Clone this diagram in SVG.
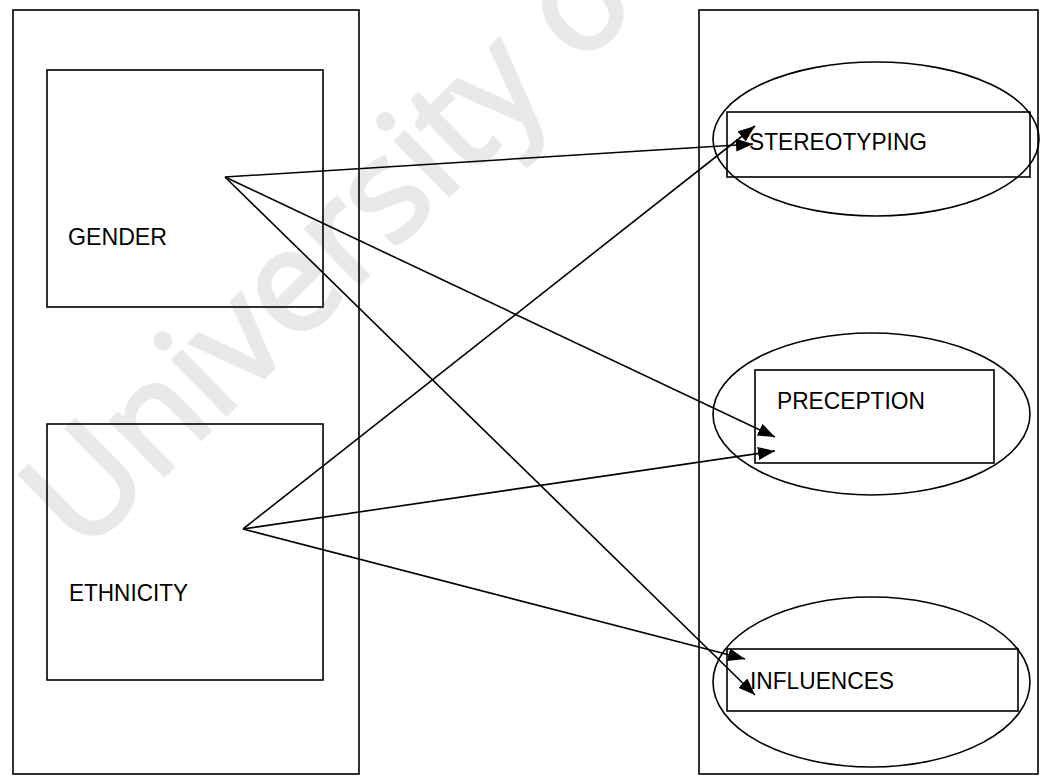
<svg xmlns="http://www.w3.org/2000/svg" width="1045" height="783" viewBox="0 0 1045 783">
  <style>
    .frame { fill: none; stroke: #000; stroke-width: 1.6; }
    .box { fill: none; stroke: #000; stroke-width: 1.6; }
    .oval { fill: none; stroke: #000; stroke-width: 1.6; }
    .label { font-family: "Liberation Sans", Arial, sans-serif; font-size: 24px; fill: #000; }
    .link { stroke: #000; stroke-width: 1.6; fill: none; marker-end: url(#head); }
    .mark { font-family: "Open Sans", "Liberation Sans", sans-serif; font-size: 142px; fill: #e9e9e9; stroke: #e9e9e9; stroke-width: 4; }
  </style>
  <defs>
    <marker id="head" markerUnits="userSpaceOnUse" markerWidth="18" markerHeight="14" refX="17" refY="6.5" orient="auto">
      <path d="M0,0 L17,6.5 L0,13 z" fill="#000"/>
    </marker>
  </defs>

  <rect width="1045" height="783" fill="#fff"/>

  <!-- background watermark -->
  <g id="watermark">
    <text class="mark" transform="translate(82,556) rotate(-44.5)">University of</text>
  </g>

  <!-- two column frames -->
  <g id="factors">
    <rect class="frame" x="13" y="10" width="346" height="764"/>
  </g>
  <g id="outcomes">
    <rect class="frame" x="699" y="10" width="339" height="764"/>
  </g>

  <!-- left column nodes -->
  <g id="gender">
    <rect class="box" x="47" y="70" width="276" height="237"/>
    <text class="label" x="68" y="245" textLength="99" lengthAdjust="spacingAndGlyphs">GENDER</text>
  </g>
  <g id="ethnicity">
    <rect class="box" x="47" y="424" width="276" height="256"/>
    <text class="label" x="69" y="601" textLength="119" lengthAdjust="spacingAndGlyphs">ETHNICITY</text>
  </g>

  <!-- right column nodes -->
  <g id="stereotyping">
    <ellipse class="oval" cx="876" cy="139" rx="163" ry="77"/>
    <rect class="box" x="727" y="112" width="303" height="65"/>
    <text class="label" x="749" y="150" textLength="178" lengthAdjust="spacingAndGlyphs">STEREOTYPING</text>
  </g>
  <g id="preception">
    <ellipse class="oval" cx="871.5" cy="414" rx="158.5" ry="81"/>
    <rect class="box" x="755" y="370" width="239" height="93"/>
    <text class="label" x="777" y="409" textLength="148" lengthAdjust="spacingAndGlyphs">PRECEPTION</text>
  </g>
  <g id="influences">
    <ellipse class="oval" cx="871.5" cy="682" rx="158.5" ry="85"/>
    <rect class="box" x="727" y="649" width="291" height="62"/>
    <text class="label" x="750" y="689" textLength="144" lengthAdjust="spacingAndGlyphs">INFLUENCES</text>
  </g>

  <!-- connectors -->
  <g id="connectors">
    <line class="link" x1="225" y1="177" x2="753" y2="144"/>
    <line class="link" x1="225" y1="177" x2="775" y2="437"/>
    <line class="link" x1="225" y1="177" x2="755" y2="695"/>
    <line class="link" x1="243" y1="529" x2="755" y2="126"/>
    <line class="link" x1="243" y1="529" x2="775" y2="451"/>
    <line class="link" x1="243" y1="529" x2="745" y2="659"/>
  </g>
</svg>
